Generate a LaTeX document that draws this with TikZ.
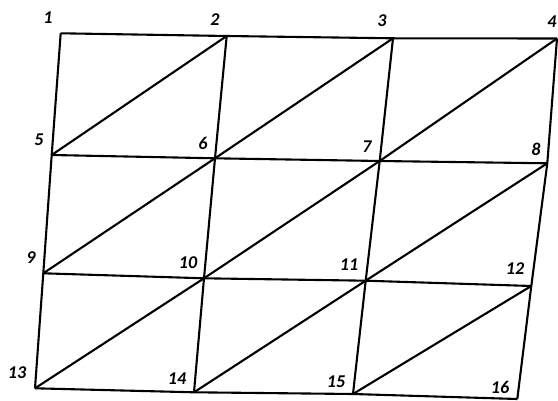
\documentclass[tikz,border=0pt]{standalone}
\usepackage{fontspec}
\setmainfont{Carlito}
\begin{document}
\begin{tikzpicture}[x=1pt,y=-1pt,line width=2.1pt,line join=round,
  num/.style={font=\fontsize{18}{18}\selectfont\bfseries\itshape,inner sep=0pt}]
\path[use as bounding box] (0,0) rectangle (558,401);

\coordinate (p1) at (60.7,33.3);
\coordinate (p2) at (226.7,36);
\coordinate (p3) at (393,38.3);
\coordinate (p4) at (557,38.5);
\coordinate (p5) at (51.7,155);
\coordinate (p6) at (215,158.3);
\coordinate (p7) at (379.7,161);
\coordinate (p8) at (547.3,163.3);
\coordinate (p9) at (43.3,273.3);
\coordinate (p10) at (204,278.3);
\coordinate (p11) at (365.7,280.7);
\coordinate (p12) at (531.3,286);
\coordinate (p13) at (35,388.3);
\coordinate (p14) at (194,392.3);
\coordinate (p15) at (353,394);
\coordinate (p16) at (517.3,399);

% horizontal lines
\path[draw] (p1) -- (p2) -- (p3) -- (p4);
\path[draw] (p5) -- (p6) -- (p7) -- (p8);
\path[draw] (p9) -- (p10) -- (p11) -- (p12);
\path[draw] (p13) -- (p14) -- (p15) -- (p16);

% vertical lines
\path[draw] (p1) -- (p5) -- (p9) -- (p13);
\path[draw] (p2) -- (p6) -- (p10) -- (p14);
\path[draw] (p3) -- (p7) -- (p11) -- (p15);
\path[draw] (p4) -- (p8) -- (p12) -- (p16);

% diagonals
\path[draw] (p5) -- (p2);
\path[draw] (p6) -- (p3);
\path[draw] (p7) -- (p4);
\path[draw] (p9) -- (p6);
\path[draw] (p10) -- (p7);
\path[draw] (p11) -- (p8);
\path[draw] (p13) -- (p10);
\path[draw] (p14) -- (p11);
\path[draw] (p15) -- (p12);

\node[num] (l1) at (48,18) {1};
\node[num] (l2) at (215,20) {2};
\node[num] (l3) at (382,21) {3};
\node[num] (l4) at (552,22) {4};
\node[num] (l5) at (39,140) {5};
\node[num] (l6) at (203,143) {6};
\node[num] (l7) at (367,147) {7};
\node[num] (l8) at (536,149) {8};
\node[num] (l9) at (31,258) {9};
\node[num] (l10) at (188,263) {10};
\node[num] (l11) at (349,265) {11};
\node[num] (l12) at (515,269) {12};
\node[num] (l13) at (17,373) {13};
\node[num] (l14) at (177,379) {14};
\node[num] (l15) at (336,382) {15};
\node[num] (l16) at (500,387) {16};
\end{tikzpicture}
\end{document}
